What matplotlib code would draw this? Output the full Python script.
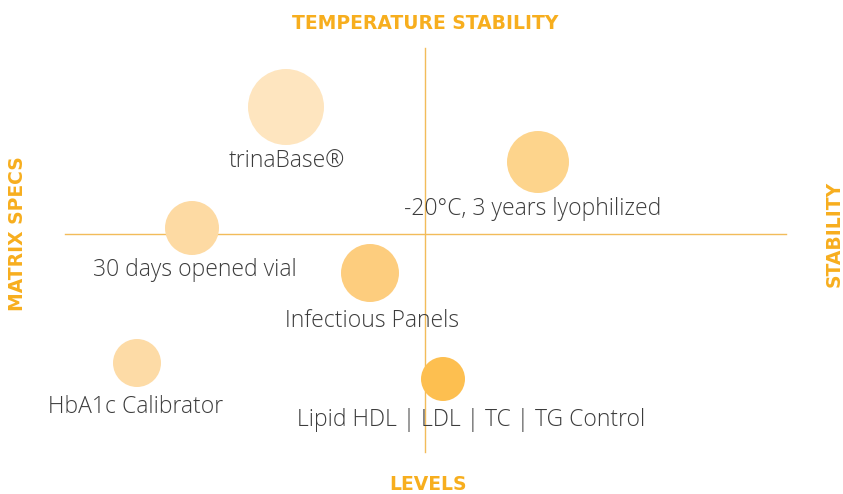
import matplotlib.pyplot as plt
from matplotlib.patches import Circle

# bubble chart: positions relative to the crossing of the two axes
labels = [
    "trinaBase®",
    "-20°C, 3 years lyophilized",
    "30 days opened vial",
    "Infectious Panels",
    "HbA1c Calibrator",
    "Lipid HDL | LDL | TC | TG Control",
]
x_vals = [-139, 113, -233, -55, -288, 18]
y_vals = [127, 72, 6, -39, -129, -145]
sizes = [38, 31, 27, 29, 24, 22]
colors = ["#FEE5BF", "#FDD48C", "#FDDAA3", "#FDCD7E", "#FDDBA6", "#FDBF50"]
label_dx = [1, -5, 3, 2, -1, 28]
label_dy = [-55, -47, -42, -48, -44, -41]

axis_top = "TEMPERATURE STABILITY"
axis_bottom = "LEVELS"
axis_left = "MATRIX SPECS"
axis_right = "STABILITY"

orange = "#F7AE1E"
line_color = "#F2BC5A"
text_color = "#3C3C3C"

fig = plt.figure(figsize=(8.43, 4.94), dpi=100)
ax = fig.add_axes([0, 0, 1, 1])
ax.set_xlim(-425, 418)
ax.set_ylim(-260, 234)
ax.set_aspect("equal")
ax.axis("off")

ax.plot([-360, 361], [0, 0], color=line_color, lw=1)
ax.plot([0, 0], [-218, 186], color=line_color, lw=1)

for x, y, r, c in zip(x_vals, y_vals, sizes, colors):
    ax.add_patch(Circle((x, y), r, facecolor=c, edgecolor="none", zorder=3))

for lab, x, y, dx, dy in zip(labels, x_vals, y_vals, label_dx, label_dy):
    ax.text(x + dx, y + dy, lab, ha="center", va="center", fontsize=16.5,
            color=text_color, family="Open Sans", fontweight="light", zorder=4)

kw = dict(color=orange, fontsize=13.5, family="DejaVu Sans", fontweight="bold")
ax.text(0, 213, axis_top, ha="center", va="center_baseline", **kw)
ax.text(3, -249, axis_bottom, ha="center", va="center_baseline", **kw)
ax.text(-408, 0, axis_left, ha="center", va="center", rotation=90, **kw)
ax.text(409, 0, axis_right, ha="center", va="center", rotation=90, **kw)

fig.savefig("out.png", dpi=100)
